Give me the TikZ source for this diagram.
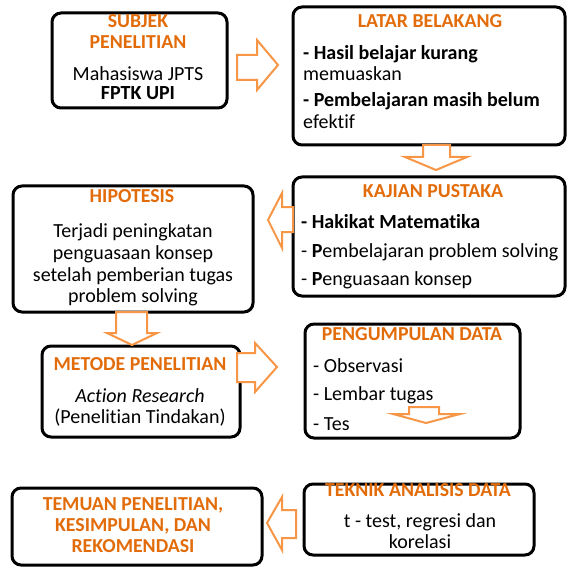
\documentclass[tikz,border=0pt]{standalone}
\usepackage{fontspec}
\setmainfont[Ligatures=NoCommon]{Carlito}
\definecolor{ttl}{HTML}{E36C0A}
\definecolor{arw}{HTML}{F79646}
\tikzset{
  box/.style={draw=black, line width=3pt, rounded corners=9pt, fill=white, inner sep=0pt},
  ttlt/.style={text=ttl, font=\fontsize{19.8}{22}\selectfont\bfseries, inner sep=0pt, anchor=base},
  bodyc/.style={text=black, font=\fontsize{20}{22}\selectfont, inner sep=0pt, anchor=base},
  bodyl/.style={text=black, font=\fontsize{20}{22}\selectfont, inner sep=0pt, anchor=base west},
  blockarrow/.style={draw=arw, line width=2pt, fill=white, line join=miter}
}
\begin{document}
\begin{tikzpicture}[x=1pt,y=-1pt]
\useasboundingbox (0,0) rectangle (567,569);
% boxes
\node[box, minimum width=175pt, minimum height=95pt] (subjek) at (139.5,60.5) {};
\node[box, minimum width=272pt, minimum height=138pt] (latar) at (429,76) {};
\node[box, minimum width=272pt, minimum height=119pt] (kajian) at (429,236.5) {};
\node[box, minimum width=240pt, minimum height=126pt] (hipo) at (133,249) {};
\node[box, minimum width=198pt, minimum height=91pt] (metode) at (141,391.5) {};
\node[box, minimum width=215pt, minimum height=114pt] (kumpul) at (412.5,381) {};
\node[box, minimum width=230pt, minimum height=71pt] (teknik) at (419,519.5) {};
\node[box, minimum width=250pt, minimum height=77pt] (temuan) at (137,526.5) {};
% SUBJEK
\node[ttlt] (s1) at (138,28) {SUBJEK};
\node[ttlt] (s2) at (138,49) {PENELITIAN};
\node[bodyc] (s3) at (138,81) {Mahasiswa JPTS};
\node[bodyc, font=\fontsize{20}{22}\selectfont\bfseries] (s4) at (138,100) {FPTK UPI};
% LATAR
\node[ttlt] (l1) at (430,28) {LATAR BELAKANG};
\node[bodyl] (l2) at (303,60) {\textbf{- Hasil belajar kurang}};
\node[bodyl] (l3) at (303,81) {memuaskan};
\node[bodyl] (l4) at (303,107) {\textbf{- Pembelajaran masih belum}};
\node[bodyl] (l5) at (303,129) {efektif};
% KAJIAN
\node[ttlt] (k1) at (433,197) {KAJIAN PUSTAKA};
\node[bodyl] (k2) at (301,228) {\textbf{- Hakikat Matematika}};
\node[bodyl] (k3) at (301,257) {- \textbf{P}embelajaran problem solving};
\node[bodyl] (k4) at (301,285) {- \textbf{P}enguasaan konsep};
% HIPOTESIS
\node[ttlt] (h1) at (132,203) {HIPOTESIS};
\node[bodyc] (h2) at (133,237) {Terjadi peningkatan};
\node[bodyc] (h3) at (133,259) {penguasaan konsep};
\node[bodyc] (h4) at (133,281) {setelah pemberian tugas};
\node[bodyc] (h5) at (133,302) {problem solving};
% METODE
\node[ttlt] (m1) at (140,370) {METODE PENELITIAN};
\node[bodyc, font=\fontsize{20}{22}\selectfont\itshape] (m2) at (140,402) {Action Research};
\node[bodyc] (m3) at (140,423) {(Penelitian Tindakan)};
% PENGUMPULAN
\node[ttlt] (p1) at (412,340) {PENGUMPULAN DATA};
\node[bodyl] (p2) at (313,372) {- Observasi};
\node[bodyl] (p3) at (313,400) {- Lembar tugas};
\node[bodyl] (p4) at (313,430) {- Tes};
% TEKNIK
\node[ttlt] (t1) at (418,496) {TEKNIK ANALISIS DATA};
\node[bodyc] (t2) at (420,527) {t - test, regresi dan};
\node[bodyc] (t3) at (420,548) {korelasi};
% TEMUAN
\node[ttlt] (e1) at (133,510) {TEMUAN PENELITIAN,};
\node[ttlt] (e2) at (133,531) {KESIMPULAN, DAN};
\node[ttlt] (e3) at (133,552) {REKOMENDASI};
% block arrows
\draw[blockarrow] (237,55) -- (257,55) -- (257,40) -- (278,65) -- (257,90) -- (257,80) -- (237,80) -- cycle;
\draw[blockarrow] (423,145) -- (450,145) -- (450,157) -- (467,157) -- (436,170) -- (405,157) -- (423,157) -- cycle;
\draw[blockarrow] (293,207) -- (282,207) -- (282,193) -- (268,220) -- (282,248) -- (282,232) -- (293,232) -- cycle;
\draw[blockarrow] (116,312) -- (147,312) -- (147,333) -- (157,333) -- (132,345) -- (107,333) -- (116,333) -- cycle;
\draw[blockarrow] (237,353) -- (255,353) -- (255,343) -- (277,367) -- (255,392) -- (255,382) -- (237,382) -- cycle;
\draw[blockarrow] (409,407) -- (439,407) -- (439,414) -- (460,414) -- (426,423) -- (393,414) -- (409,414) -- cycle;
\draw[blockarrow] (296,510) -- (282,510) -- (282,497) -- (267,523) -- (282,550) -- (282,538) -- (296,538) -- cycle;
\end{tikzpicture}
\end{document}
